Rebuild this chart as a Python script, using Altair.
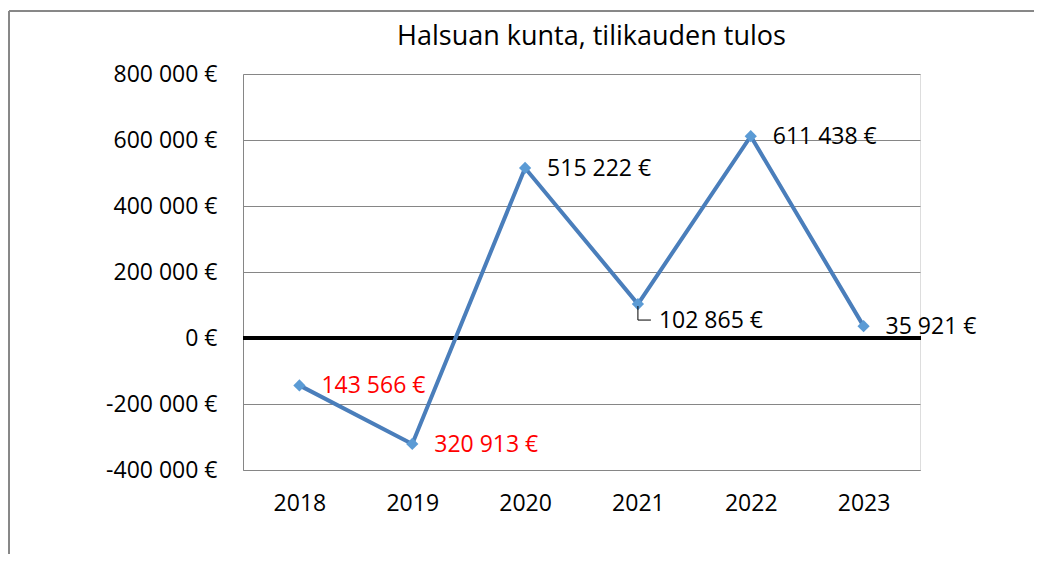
import altair as alt
import pandas as pd

# ---- data ----
years = ["2018", "2019", "2020", "2021", "2022", "2023"]
results = [-143566, -320913, 515222, 102865, 611438, 35921]
y_ticks = [-400000, -200000, 0, 200000, 400000, 600000, 800000]
leader_years = ["2021"]
title_text = ["Halsuan kunta, tilikauden tulos"]


def fmt(v):
    return f"{abs(v):,}".replace(",", " ") + " €"


df = pd.DataFrame({
    "year": years,
    "value": results,
    "label": [fmt(v) for v in results],
    "neg": [v < 0 for v in results],
    "leader": [y in leader_years for y in years],
})
zero_df = pd.DataFrame({"value": [0]})
title_df = pd.DataFrame({"t": title_text})

FONT = "Open Sans"
FS = 23
W, H = 677, 396
PAD = {"left": 235, "top": 66, "right": 114, "bottom": 84}
GRID = "#868686"

x_enc = alt.X(
    "year:N", sort=years,
    scale=alt.Scale(type="point", padding=0.5),
    axis=alt.Axis(title=None, labelAngle=0, ticks=False, grid=False,
                  domainColor=GRID, labelFont=FONT, labelFontSize=FS,
                  labelColor="black", labelPadding=22),
)
y_label_expr = ("(datum.value < 0 ? '-' : '') + "
                "replace(format(abs(datum.value), ','), regexp(',', 'g'), ' ') + ' €'")
y_enc = alt.Y(
    "value:Q",
    scale=alt.Scale(domain=[-400000, 800000], nice=False, zero=False),
    axis=alt.Axis(values=y_ticks, title=None, ticks=False, grid=True,
                  gridColor=GRID, gridWidth=1, domainColor=GRID,
                  labelExpr=y_label_expr, labelFont=FONT, labelFontSize=FS,
                  labelColor="black", labelPadding=26),
)

base = alt.Chart(df)

frame_left = base.mark_rule(color=GRID, strokeWidth=1).encode(
    x=alt.value(-234), y=alt.value(-63), y2=alt.value(H + PAD["bottom"]))
frame_top = base.mark_rule(color=GRID, strokeWidth=1).encode(
    x=alt.value(-234), x2=alt.value(W + PAD["right"]), y=alt.value(-63))

title = alt.Chart(title_df).mark_text(
    font=FONT, fontSize=27, color="black", align="center", baseline="alphabetic"
).encode(text="t:N", x=alt.value(W / 2 + 10), y=alt.value(-29))

zero_rule = alt.Chart(zero_df).mark_rule(color="black", strokeWidth=4).encode(
    y=alt.Y("value:Q"), x=alt.value(0), x2=alt.value(W + 1))

line = base.mark_line(color="#4A7EBB", strokeWidth=4).encode(x=x_enc, y=y_enc)
points = base.mark_point(shape="diamond", filled=True, size=150,
                         color="#5B9BD5", opacity=1).encode(x=x_enc, y=y_enc)

color_cond = alt.condition("datum.neg", alt.value("#FF0000"), alt.value("black"))
labels = base.transform_filter("!datum.leader").mark_text(
    align="left", baseline="middle", dx=22, dy=1, font=FONT, fontSize=FS
).encode(x=x_enc, y=y_enc, text="label:N", color=color_cond)
labels_leader = base.transform_filter("datum.leader").mark_text(
    align="left", baseline="middle", dx=21, dy=17, font=FONT, fontSize=FS
).encode(x=x_enc, y=y_enc, text="label:N", color=color_cond)

leader_v = base.transform_filter("datum.leader").mark_rule(
    color="black", strokeWidth=1, yOffset=2, y2Offset=16
).encode(x=x_enc, y=y_enc, y2="value:Q")
leader_h = base.transform_filter("datum.leader").mark_rule(
    color="black", strokeWidth=1, xOffset=0, x2Offset=13, yOffset=16
).encode(x=x_enc, x2="year:N", y=y_enc)

chart = alt.layer(
    frame_left, frame_top, title, zero_rule, line, points,
    leader_v, leader_h, labels, labels_leader
).properties(
    width=W, height=H,
    padding=PAD,
    autosize=alt.AutoSizeParams(type="none"),
).configure_view(stroke=None).configure(background="white")

chart.save("out.html", embed_options={"renderer": "svg", "actions": False})
